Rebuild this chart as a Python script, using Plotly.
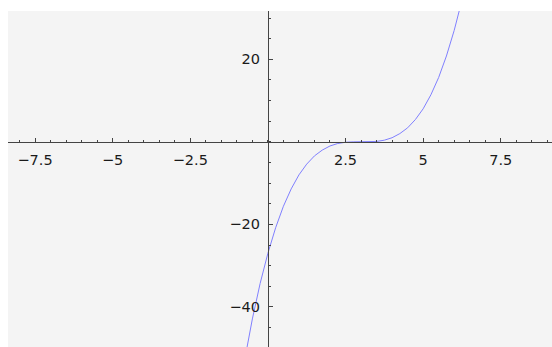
import plotly.graph_objects as go

# Curve points
x_vals = [-0.8, -0.5, -0.25, 0.0, 0.25, 0.5, 0.75, 1.0, 1.25, 1.5, 1.75, 2.0,
          2.25, 2.5, 2.75, 3.0, 3.25, 3.5, 3.75, 4.0, 4.25, 4.5, 4.75, 5.0,
          5.25, 5.5, 5.75, 6.0, 6.25]
y_vals = [-54.9, -42.9, -34.3, -27.0, -20.8, -15.6, -11.4, -8.0, -5.4, -3.4,
          -2.0, -1.0, -0.4, -0.1, 0.0, 0.0, 0.0, 0.1, 0.4, 1.0, 2.0, 3.4, 5.4,
          8.0, 11.4, 15.6, 20.8, 27.0, 34.3]

x_ticks = [-7.5, -5, -2.5, 2.5, 5, 7.5]
x_tick_text = ["\u22127.5", "\u22125", "\u22122.5", "2.5", "5", "7.5"]
y_ticks = [-40, -20, 20]
y_tick_text = ["\u221240", "\u221220", "20"]

x_range = [-8.37, 9.15]
y_range = [-49.7, 31.7]

fig = go.Figure()
fig.add_trace(go.Scatter(x=x_vals, y=y_vals, mode="lines",
                         line=dict(color="#8080ff", width=1),
                         hoverinfo="skip", showlegend=False))

axis_col = "#444444"
font = dict(family="DejaVu Sans", size=14.5, color="#1a1a1a")

fig.update_layout(
    width=552, height=347,
    margin=dict(l=8, r=0, t=11, b=0),
    paper_bgcolor="white",
    plot_bgcolor="#f4f4f4",
    font=font,
    xaxis=dict(
        range=x_range, showgrid=False, zeroline=False,
        anchor="free",
        position=(0 - y_range[0]) / (y_range[1] - y_range[0]),
        showline=True, linecolor=axis_col, linewidth=1,
        tickmode="array", tickvals=x_ticks, ticktext=x_tick_text,
        ticks="inside", ticklen=4, tickcolor=axis_col, tickwidth=1,
        ticklabelstandoff=5,
        minor=dict(ticks="inside", dtick=0.5, tick0=0, ticklen=2,
                   tickcolor=axis_col, tickwidth=1),
        tickfont=font,
    ),
    yaxis=dict(
        range=y_range, showgrid=False, zeroline=False,
        anchor="free",
        position=(0 - x_range[0]) / (x_range[1] - x_range[0]),
        showline=True, linecolor=axis_col, linewidth=1,
        tickmode="array", tickvals=y_ticks, ticktext=y_tick_text,
        ticks="inside", ticklen=4, tickcolor=axis_col, tickwidth=1,
        ticklabelstandoff=5,
        minor=dict(ticks="inside", dtick=5, tick0=0, ticklen=2,
                   tickcolor=axis_col, tickwidth=1),
        tickfont=font,
    ),
)

fig.write_html("out.html")
